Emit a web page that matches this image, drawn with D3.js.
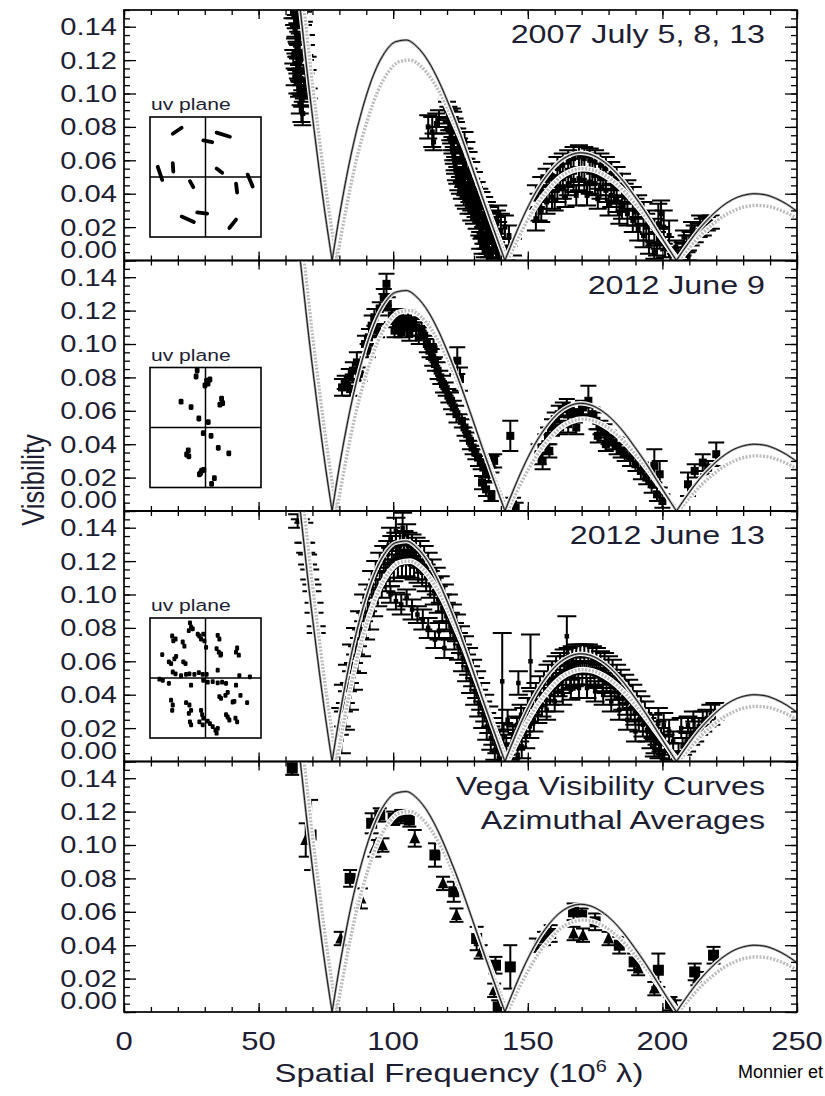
<!DOCTYPE html>
<html>
<head>
<meta charset="utf-8">
<script src="https://cdn.jsdelivr.net/npm/d3@7"></script>
<style>
  html, body { margin: 0; padding: 0; background: #fff; }
  svg { display: block; }
</style>
</head>
<body>
<svg id="chart" width="825" height="1096"></svg>
<script>
// ---------------- axis ticks and labels ----------------
const freqTicks = [0, 50, 100, 150, 200, 250];
const freqMinor = d3.range(0, 251, 10);
const visTicks = [0, 0.02, 0.04, 0.06, 0.08, 0.10, 0.12, 0.14];
const visMinor = d3.range(0, 0.1501, 0.005);
const panelTitles = [
  ["2007 July 5, 8, 13"],
  ["2012 June 9"],
  ["2012 June 13"],
  ["Vega Visibility Curves", "Azimuthal Averages"]
];

// ---------------- model visibility curves ----------------
// uniform-disk model (black)
const udFreq = [62.5, 64.6, 66.6, 68.6, 70.6, 72.6, 74.6, 77.3,
  80.7, 84.7, 88.8, 92.8, 96.8, 100.9, 104.9, 108.9, 113.0, 117.0, 121.0, 125.1, 129.1, 133.1, 137.2, 141.5,
  145.3, 149.3, 153.3, 157.4, 161.4, 165.4, 169.5, 173.5, 177.5, 181.6, 185.6, 189.6, 193.7, 197.7, 201.7, 205.2,
  209.8, 213.8, 217.9, 221.9, 225.9, 230.0, 234.0, 238.1, 242.1, 246.1, 250.2, 254.2];
const udVis = [0.194, 0.163, 0.134, 0.105, 0.0785, 0.0531, 0.0291, 0,
  0.0330, 0.0660, 0.0922, 0.1116, 0.1244, 0.1310, 0.1320, 0.1279, 0.1194, 0.1072, 0.0922, 0.0751, 0.0568, 0.0379, 0.0192, 0,
  0.0151, 0.0296, 0.0419, 0.0516, 0.0587, 0.0629, 0.0645, 0.0634, 0.0600, 0.0545, 0.0473, 0.0386, 0.0291, 0.0189, 0.0087, 0,
  0.0107, 0.0191, 0.0263, 0.0321, 0.0364, 0.0390, 0.0400, 0.0394, 0.0372, 0.0338, 0.0292, 0.0238];
// limb-darkened model (grey)
const ldFreq = [63.9, 66.0, 68.0, 70.0, 72.1, 74.1, 76.2, 79.0,
  82.4, 86.3, 90.4, 94.3, 98.3, 102.3, 106.3, 110.3, 114.3, 118.3, 122.2, 126.3, 130.2, 134.2, 138.2, 142.5,
  146.3, 150.3, 154.3, 158.4, 162.3, 166.3, 170.4, 174.4, 178.4, 182.5, 186.5, 190.5, 194.5, 198.5, 202.5, 206.0,
  210.6, 214.6, 218.7, 222.7, 226.7, 230.8, 234.8, 238.9, 242.9, 246.9, 251.0, 255.0];
const ldVis = [0.194, 0.163, 0.134, 0.105, 0.0785, 0.0531, 0.0291, 0,
  0.0300, 0.0600, 0.0838, 0.1014, 0.1131, 0.1191, 0.1200, 0.1163, 0.1085, 0.0975, 0.0838, 0.0683, 0.0516, 0.0345, 0.0175, 0,
  0.0129, 0.0252, 0.0357, 0.0440, 0.0501, 0.0537, 0.0550, 0.0541, 0.0512, 0.0465, 0.0403, 0.0329, 0.0248, 0.0161, 0.0074, 0,
  0.0088, 0.0158, 0.0217, 0.0265, 0.0300, 0.0322, 0.0330, 0.0325, 0.0307, 0.0279, 0.0241, 0.0196];

// ---------------- observations: [spatial frequency, visibility, error] ----------------
const obs2007 = [
  [62.6,.149,.004],[63.2,.146,.005],[63.8,.143,.004],[64.4,.147,.005],[65.0,.144,.004],[63.5,.139,.006],[64.1,.136,.005],
  [64.7,.133,.004],[65.3,.130,.006],[63.7,.129,.005],[64.3,.126,.004],[65.0,.123,.006],[65.6,.120,.005],[64.0,.118,.004],
  [64.6,.115,.006],[65.2,.112,.005],[65.8,.109,.004],[64.4,.106,.006],[65.0,.103,.005],[65.6,.100,.007],[66.2,.097,.005],
  [65.3,.094,.006],[65.9,.091,.008],[66.4,.088,.007],[67.0,.126,.003],[67.6,.132,.003],[68.2,.118,.004],[67.4,.108,.004],
  [68.6,.100,.003],[66.8,.139,.004],[62.9,.122,.004],[63.4,.110,.005],[66.5,.145,.004],[67.2,.116,.004],[66.8,.102,.005],
  [113.0,.080,.007],[114.5,.077,.009],[116.0,.082,.006],[115.0,.071,.005],[117.0,.085,.005],
  [120.0,.090,.005],[120.5,.087,.005],[121.8,.087,.004],[120.8,.084,.006],[122.3,.084,.005],[121.0,.081,.005],[122.8,.081,.004],
  [121.2,.078,.006],[123.3,.078,.005],[121.5,.075,.005],[123.8,.075,.004],[121.8,.072,.006],[124.3,.072,.005],[122.0,.069,.005],
  [124.5,.069,.004],[122.3,.066,.006],[125.0,.066,.005],[122.5,.063,.005],[125.6,.063,.004],[122.8,.060,.006],[126.0,.060,.005],
  [123.0,.057,.005],[126.5,.057,.004],[123.3,.054,.006],[127.2,.054,.005],[123.8,.051,.005],[127.8,.051,.004],[124.2,.048,.006],
  [128.3,.048,.005],[126.0,.048,.004],[124.8,.045,.005],[128.8,.045,.004],[126.8,.045,.006],[125.5,.042,.005],[129.5,.042,.004],
  [127.5,.042,.005],[126.2,.039,.006],[130.0,.039,.005],[128.3,.039,.004],[127.0,.036,.005],[130.6,.036,.004],[129.0,.036,.006],
  [128.0,.033,.005],[131.2,.033,.004],[129.8,.033,.005],[129.0,.030,.006],[132.0,.030,.005],[130.6,.030,.004],[130.0,.027,.005],
  [132.8,.027,.004],[134.0,.027,.006],[131.0,.024,.005],[133.5,.024,.004],[135.0,.024,.005],[132.0,.021,.006],[134.3,.021,.005],
  [136.0,.021,.004],[132.8,.018,.005],[135.0,.018,.004],[137.0,.018,.006],[133.5,.015,.005],[136.0,.015,.004],[134.2,.012,.005],
  [136.8,.012,.004],[135.0,.009,.005],[137.5,.009,.004],[135.6,.006,.004],[138.2,.006,.005],[136.5,.003,.004],[139.0,.003,.004],
  [132.8,.036,.005],[133.8,.033,.005],[134.8,.030,.005],[135.8,.027,.005],[136.8,.024,.005],[137.8,.021,.005],[138.5,.018,.005],
  [132.3,.012,.005],[133.2,.009,.005],[134.0,.006,.004],[134.8,.003,.004],
  [126.5,.072,.005],[127.2,.066,.005],[128.0,.060,.005],[129.0,.054,.005],[130.0,.048,.005],[131.0,.042,.005],[132.0,.038,.005],
  [138.5,.022,.008],[140.0,.018,.010],[141.5,.020,.007],[143.0,.015,.006],[139.0,.028,.005],[144.5,.008,.005],[142.0,.004,.004],
  [137.5,.012,.006],
  [153,.038,.007],[155,.043,.007],[157,.048,.007],[159,.051,.007],[161,.055,.007],[163,.057,.007],[165,.059,.007],[167,.061,.007],
  [169,.062,.007],[171,.061,.007],[173,.060,.007],[175,.059,.007],[177,.057,.007],[179,.055,.007],[181,.052,.007],[183,.049,.007],
  [185,.045,.007],[187,.041,.007],[189,.037,.007],[191,.032,.007],[193,.028,.007],[195,.023,.007],[197,.018,.007],[199,.013,.006],
  [201,.008,.006],[203,.003,.004],
  [153,.025,.007],[155,.030,.007],[157,.035,.007],[159,.038,.007],[161,.042,.007],[163,.044,.007],[165,.046,.007],[167,.048,.007],
  [169,.049,.007],[171,.048,.007],[173,.047,.007],[175,.046,.007],[177,.044,.007],[179,.042,.007],[181,.039,.007],[183,.036,.007],
  [185,.032,.007],[187,.028,.007],[189,.024,.007],[191,.019,.007],[193,.015,.007],[195,.010,.006],[197,.005,.004],
  [154,.032,.008],[158,.043,.008],[162,.050,.008],[166,.053,.008],[170,.055,.008],[174,.054,.008],[178,.050,.008],[182,.044,.008],
  [186,.038,.008],[190,.029,.008],[194,.020,.008],[198,.010,.007],
  [160,.036,.006],[164,.038,.006],[168,.039,.006],[172,.039,.006],[176,.037,.006],[180,.033,.006],[184,.028,.006],
  [198.5,.022,.012],[200.5,.020,.010],[202.5,.015,.009],[199.5,.028,.008],
  [206,.004,.004],[207.5,.007,.004],[209,.010,.005],[210.5,.013,.004],[212,.016,.005],[213.5,.018,.004],[215,.020,.005],
  [216.5,.022,.004],[218,.023,.004],[208,.014,.004],[211,.019,.004],[214,.022,.005],[205,.008,.004],[209.5,.003,.003]
];

const obsJune9 = [
  [97.5,.136,.006],[96.5,.128,.005],[98.0,.124,.004],[95.0,.121,.004],[93.0,.116,.005],[92.0,.111,.006],[94.0,.108,.004],
  [91.0,.104,.005],[89.5,.100,.005],[90.5,.096,.004],[86.5,.089,.006],[85.0,.084,.005],[83.5,.080,.005],[82.0,.077,.004],
  [81.0,.074,.005],[84.0,.073,.004],[87.5,.082,.004],
  [99.5,.117,.004],[101,.114,.004],[102.5,.116,.005],[104,.113,.004],[105.5,.115,.005],[107,.112,.004],[108.5,.110,.005],
  [100.5,.108,.004],[103,.107,.003],[106,.106,.004],[109.5,.104,.004],[110.5,.109,.004],[111.5,.105,.005],
  [112.5,.100,.005],[113.5,.096,.004],[114.5,.092,.005],[115.5,.088,.004],[116.5,.084,.005],[117.5,.080,.004],[118.5,.076,.005],
  [119.5,.073,.004],[120.5,.069,.004],[121.5,.066,.005],[122.5,.062,.004],[123.5,.058,.005],[123.8,.090,.008],[124.8,.079,.007],
  [115,.097,.006],[125.5,.054,.004],[126.5,.050,.005],[127.5,.046,.004],[128.5,.042,.005],[129.5,.038,.004],[130.5,.035,.004],
  [131.5,.032,.005],[132.5,.029,.004],[133.5,.026,.005],[134.5,.024,.004],[135.5,.022,.004],[136.5,.028,.005],[137.5,.030,.004],
  [133,.017,.004],[134.5,.013,.004],[136.5,.009,.003],[143.5,.045,.009],[144.5,.004,.004],[145.5,.002,.003],
  [154,.034,.006],[155.5,.030,.005],[156.5,.040,.006],[157.5,.045,.005],[158,.036,.004],[159,.050,.005],[160,.055,.004],
  [161.5,.058,.005],[163,.061,.004],[164.5,.062,.005],[166,.060,.004],[167.5,.057,.004],[169,.059,.005],[170.5,.062,.004],
  [172.5,.066,.009],[174,.058,.004],[175.5,.054,.005],[177,.050,.004],[178.5,.047,.005],[180,.044,.004],[181.5,.041,.004],
  [183,.039,.005],[184.5,.036,.004],[186,.034,.004],[162,.050,.004],[165,.052,.005],[168,.050,.004],[176,.045,.004],
  [179,.040,.004],[188,.032,.005],[190,.028,.004],[192,.024,.005],[194,.020,.004],[196,.016,.005],[197,.027,.010],
  [199,.022,.008],[198,.010,.004],[200,.006,.004],[209.5,.016,.007],[212,.024,.004],[215,.029,.005],[217,.026,.004],
  [220,.034,.007]
];

const obsJune13 = [
  [64.5,.144,.004],[66.8,.137,.006],[65.5,.148,.003],[67.5,.128,.003],[68.2,.121,.003],[69.0,.112,.003],[69.8,.104,.002],
  [70.6,.092,.003],[71.4,.079,.002],
  [80,.024,.008],[81.5,.038,.008],[83,.050,.008],[84.5,.062,.008],[86,.072,.008],[87.5,.082,.008],[89,.092,.008],
  [90.5,.098,.008],[92,.106,.008],[93.5,.112,.008],[95,.117,.008],[96.5,.121,.008],[98,.124,.008],[99.5,.127,.008],
  [101,.129,.008],[102.5,.129,.008],[104,.130,.008],[105.5,.129,.008],[107,.128,.008],[108.5,.126,.008],[110,.124,.008],
  [111.5,.121,.008],[113,.117,.008],[114.5,.113,.008],[116,.108,.008],[117.5,.103,.008],[119,.098,.008],[120.5,.092,.008],
  [122,.086,.008],[123.5,.080,.008],[125,.073,.008],[126.5,.067,.008],[128,.060,.008],[129.5,.053,.008],[131,.046,.008],
  [132.5,.039,.008],[134,.032,.008],[135.5,.025,.008],[137,.018,.008],[138.5,.012,.007],[140,.005,.005],
  [80.75,.013,.008],[82.25,.027,.008],[83.75,.039,.008],[85.25,.051,.008],[86.75,.061,.008],[88.25,.071,.008],[89.75,.081,.008],
  [91.25,.087,.008],[92.75,.095,.008],[94.25,.101,.008],[95.75,.106,.008],[97.25,.110,.008],[98.75,.113,.008],[100.25,.116,.008],
  [101.75,.118,.008],[103.25,.118,.008],[104.75,.119,.008],[106.25,.118,.008],[107.75,.117,.008],[109.25,.115,.008],
  [110.75,.113,.008],[112.25,.110,.008],[113.75,.106,.008],[115.25,.102,.008],[116.75,.097,.008],[118.25,.092,.008],
  [119.75,.087,.008],[121.25,.081,.008],[122.75,.075,.008],[124.25,.069,.008],[125.75,.062,.008],[127.25,.056,.008],
  [128.75,.049,.008],[130.25,.042,.008],[131.75,.035,.008],[133.25,.028,.008],[134.75,.021,.008],[136.25,.014,.007],
  [137.75,.007,.006],[139.25,.002,.004],
  [99,.100,.005],[101,.096,.005],[103,.094,.006],[105,.098,.005],[107,.091,.006],[109,.088,.005],[111,.085,.006],
  [113,.080,.006],[115.5,.073,.005],[117,.078,.005],[119,.068,.006],
  [99,.134,.006],[101,.138,.008],[103.5,.140,.009],[105,.136,.006],
  [140.5,.048,.029],[146.5,.047,.007],[141,.015,.008],[142,.010,.006],[143.5,.006,.005],[144.5,.016,.006],[139.5,.012,.006],
  [142.5,.025,.006],[146,.022,.005],[147.5,.028,.006],[151,.060,.016],[164.5,.075,.012],
  [144,.008,.006],[145.5,.014,.007],[147,.019,.007],[148.5,.025,.007],[150,.031,.007],[151.5,.035,.007],[153,.040,.007],
  [154.5,.044,.007],[156,.047,.007],[157.5,.051,.007],[159,.053,.007],[160.5,.056,.007],[162,.058,.007],[163.5,.060,.007],
  [165,.061,.007],[166.5,.062,.007],[168,.063,.007],[169.5,.063,.007],[171,.063,.007],[172.5,.063,.007],[174,.062,.007],
  [175.5,.061,.007],[177,.059,.007],[178.5,.058,.007],[180,.056,.007],[181.5,.054,.007],[183,.051,.007],[184.5,.048,.007],
  [186,.045,.007],[187.5,.042,.007],[189,.039,.007],[190.5,.035,.007],[192,.032,.007],[193.5,.029,.007],[195,.025,.007],
  [196.5,.021,.007],[198,.017,.007],[199.5,.013,.007],[201,.010,.006],[202.5,.006,.005],[204,.002,.004],
  [146.25,.004,.005],[147.75,.009,.007],[149.25,.015,.007],[150.75,.021,.007],[152.25,.025,.007],[153.75,.030,.007],
  [155.25,.034,.007],[156.75,.037,.007],[158.25,.041,.007],[159.75,.043,.007],[161.25,.046,.007],[162.75,.048,.007],
  [164.25,.050,.007],[165.75,.051,.007],[167.25,.052,.007],[168.75,.053,.007],[170.25,.053,.007],[171.75,.053,.007],
  [173.25,.053,.007],[174.75,.052,.007],[176.25,.051,.007],[177.75,.049,.007],[179.25,.048,.007],[180.75,.046,.007],
  [182.25,.044,.007],[183.75,.041,.007],[185.25,.038,.007],[186.75,.035,.007],[188.25,.032,.007],[189.75,.029,.007],
  [191.25,.025,.007],[192.75,.022,.007],[194.25,.019,.007],[195.75,.015,.007],[197.25,.011,.006],[198.75,.007,.005],
  [200.25,.003,.004],
  [157,.031,.006],[160,.036,.006],[163,.040,.006],[166,.043,.006],[169,.044,.006],[172,.044,.006],[175,.042,.006],
  [178,.040,.006],[181,.036,.006],[184,.031,.006],[187,.025,.006],[190,.018,.006],
  [206,.005,.006],[207.5,.009,.005],[209,.012,.006],[210.5,.015,.005],[212,.018,.006],[213.5,.021,.005],[215,.024,.006],
  [216.5,.026,.005],[218,.028,.006],[219.5,.030,.005],[207,.020,.006],[209.5,.022,.005],[211.5,.025,.005],[198.5,.024,.008],
  [200.5,.022,.007],[202.5,.018,.007],[204,.012,.006],[205,.002,.004],[197,.008,.005]
];

// azimuthal averages: two groups
const avgSquares = [
  [62.5,.146,.004],[69.5,.106,.021],[84,.080,.005],[92,.113,.006],[95,.118,.004],[100,.116,.004],[103,.117,.004],
  [106,.115,.004],[115.5,.094,.007],[122.5,.072,.006],[131,.044,.007],[138,.028,.005],[139,.003,.004],[143.5,.027,.013],
  [158.5,.047,.005],[167,.060,.005],[170,.058,.004],[175,.054,.005],[184,.040,.005],[189.5,.030,.005],[198.5,.025,.010],
  [203,.005,.004],[212,.024,.005],[219,.034,.005]
];
const avgTriangles = [
  [67.5,.103,.010],[80.5,.044,.004],[88,.068,.006],[93,.098,.005],[96,.100,.004],[108,.104,.005],[118.5,.077,.004],
  [123.5,.058,.004],[132.5,.036,.004],[137.5,.013,.004],[153,.040,.004],[156,.044,.004],[167,.047,.004],[170.5,.046,.004],
  [180,.044,.004],[191,.026,.004],[197,.014,.004],[205,.003,.004],[213,.020,.004]
];

// ---------------- uv coverage (normalised u, v) ----------------
const uvTracks2007 = [
  [-0.59,0.72,-0.43,0.82],[0.20,0.74,0.44,0.67],[-0.04,0.61,0.12,0.58],[-0.86,0.17,-0.78,-0.05],
  [-0.59,0.23,-0.58,0.09],[0.20,0.14,0.30,0.07],[-0.28,-0.07,-0.22,-0.17],[0.76,0.04,0.85,-0.16],
  [0.55,-0.11,0.57,-0.26],[-0.43,-0.66,-0.21,-0.75],[-0.15,-0.59,0.03,-0.61],[0.43,-0.85,0.55,-0.71]
];
const uvJune9 = [
  [-0.15,0.95],[-0.17,0.85],[0.02,0.78],[0.045,0.73],[-0.01,0.70],[0.08,0.80],[-0.44,0.43],[-0.26,0.34],
  [0.29,0.48],[0.31,0.405],[0.26,0.38],[-0.12,0.15],[0.05,0.09],[-0.04,-0.095],[0.10,-0.14],[0.23,-0.34],
  [0.42,-0.43],[-0.31,-0.38],[-0.34,-0.45],[-0.30,-0.48],[-0.07,-0.72],[-0.03,-0.705],[-0.11,-0.78],[-0.09,-0.76],
  [0.16,-0.845],[0.11,-0.94]
];
const uvJune13 = [
  [-0.28,0.92],[-0.26,0.85],[-0.30,0.79],[-0.23,0.82],[-0.14,0.73],[-0.11,0.70],[-0.04,0.73],[-0.08,0.65],[-0.02,0.62],
  [0.01,0.51],[-0.60,0.70],[-0.58,0.62],[-0.54,0.65],[-0.41,0.60],[-0.38,0.53],[0.22,0.71],[0.25,0.65],[0.20,0.49],
  [0.24,0.43],[0.27,0.38],[0.28,0.40],[0.57,0.50],[0.55,0.43],[0.60,0.38],[-0.78,0.39],[-0.53,0.36],[-0.56,0.32],
  [-0.66,0.27],[-0.62,0.24],[-0.36,0.24],[-0.40,0.27],[0.22,0.13],[-0.59,0.10],[-0.54,0.07],[-0.44,0.04],[-0.35,0.06],
  [-0.29,0.07],[-0.20,0.06],[-0.12,0.09],[-0.05,0.06],[0.02,0.06],[-0.83,-0.02],[-0.77,-0.04],[-0.66,-0.09],[-0.26,-0.12],
  [-0.04,-0.04],[0.04,-0.07],[0.13,-0.06],[0.22,-0.08],[0.30,-0.07],[0.37,-0.09],[0.61,0.04],[0.80,0.02],[0.55,-0.12],
  [0.40,-0.24],[0.36,-0.29],[0.25,-0.31],[0.28,-0.34],[0.63,-0.29],[0.49,-0.40],[0.52,-0.39],[0.75,-0.41],[-0.62,-0.37],
  [-0.59,-0.45],[-0.60,-0.54],[-0.35,-0.41],[-0.29,-0.45],[-0.26,-0.54],[-0.30,-0.59],[-0.08,-0.54],[-0.06,-0.61],
  [-0.04,-0.67],[-0.28,-0.73],[-0.26,-0.78],[-0.11,-0.73],[-0.05,-0.78],[0.04,-0.72],[0.08,-0.76],[0.37,-0.61],
  [0.40,-0.65],[0.43,-0.70],[0.54,-0.67],[0.57,-0.73],[0.13,-0.81],[0.18,-0.87],[0.20,-0.92],[0.22,-0.84]
];

// ---------------- layout ----------------
const FONT = "'Liberation Sans', Arial, Helvetica, sans-serif";
const INK = "#1d1d33";
const SX = 1.24;               // horizontal stretch of the lettering
const plotLeft = 124, plotRight = 797, firstTop = 10, panelH = 250.5;

const svg = d3.select("#chart");
const defs = svg.append("defs");
const x = d3.scaleLinear().domain([0, 250]).range([plotLeft, plotRight]);

function label(parent, txt, px, py, size, anchor, color) {
  const g = parent.append("g").attr("transform", `translate(${px},${py}) scale(${SX},1)`);
  return g.append("text")
    .attr("text-anchor", anchor)
    .attr("font-family", FONT)
    .attr("font-size", size)
    .attr("fill", color || INK)
    .text(txt);
}

function drawModel(g, freq, vis, y, kind) {
  const pts = freq.map((f, i) => [f, vis[i]]);
  const lobes = [];
  let cur = [];
  pts.forEach(p => {
    cur.push(p);
    if (p[1] === 0 && cur.length > 1) { lobes.push(cur); cur = [p]; }
  });
  if (cur.length > 1) lobes.push(cur);
  const line = d3.line().x(d => x(d[0])).y(d => y(d[1])).curve(d3.curveMonotoneX);
  const layers = kind === "ud"
    ? [{ c: "#ffffff", w: 4.4 }, { c: "#a0a0a0", w: 2.4 }, { c: "#151515", w: 1.0 }]
    : [{ c: "#ffffff", w: 5.6 }, { c: "#bcbcbc", w: 3.4, dash: "2 1.5" }];
  layers.forEach(L => {
    g.selectAll(null).data(lobes).enter().append("path")
      .attr("d", line)
      .attr("fill", "none")
      .attr("stroke", L.c)
      .attr("stroke-width", L.w)
      .attr("stroke-dasharray", L.dash || null)
      .attr("stroke-linejoin", "round");
  });
}

function drawErrorBars(g, data, y, cap, size, shape) {
  const grp = g.append("g").attr("stroke", "#000").attr("stroke-width", 2.0).attr("fill", "#000");
  data.forEach(([f, v, e]) => {
    const cx = x(f), yt = y(v + e), yb = y(v - e), cy = y(v);
    grp.append("line").attr("x1", cx).attr("x2", cx).attr("y1", yt).attr("y2", yb);
    grp.append("line").attr("x1", cx - cap).attr("x2", cx + cap).attr("y1", yt).attr("y2", yt);
    grp.append("line").attr("x1", cx - cap).attr("x2", cx + cap).attr("y1", yb).attr("y2", yb);
    if (shape === "tri") {
      const h = size;
      grp.append("path").attr("stroke", "none")
        .attr("d", `M${cx},${cy - h * 0.6}L${cx + h / 2},${cy + h * 0.45}L${cx - h / 2},${cy + h * 0.45}Z`);
    } else {
      grp.append("rect").attr("stroke", "none")
        .attr("x", cx - size / 2).attr("y", cy - size / 2).attr("width", size).attr("height", size);
    }
  });
}

function drawUV(g, top, kind, data) {
  const bx0 = 150, bx1 = 261, by0 = top + 107, by1 = top + 227;
  const u = d3.scaleLinear().domain([-1, 1]).range([bx0, bx1]);
  const v = d3.scaleLinear().domain([-1, 1]).range([by1, by0]);
  const box = g.append("g");
  box.append("rect").attr("x", bx0).attr("y", by0).attr("width", bx1 - bx0).attr("height", by1 - by0)
    .attr("fill", "#fff").attr("stroke", "#000").attr("stroke-width", 1.6);
  box.append("line").attr("x1", u(0)).attr("x2", u(0)).attr("y1", by0).attr("y2", by1)
    .attr("stroke", "#000").attr("stroke-width", 1.5);
  box.append("line").attr("x1", bx0).attr("x2", bx1).attr("y1", v(0)).attr("y2", v(0))
    .attr("stroke", "#000").attr("stroke-width", 1.5);
  if (kind === "tracks") {
    box.selectAll(null).data(data).enter().append("line")
      .attr("x1", d => u(d[0])).attr("y1", d => v(d[1]))
      .attr("x2", d => u(d[2])).attr("y2", d => v(d[3]))
      .attr("stroke", "#000").attr("stroke-width", 3.8).attr("stroke-linecap", "round");
  } else {
    const r = kind === "dots-large" ? 2.4 : 2.0;
    box.selectAll(null).data(data).enter().append("rect")
      .attr("x", d => u(d[0]) - r).attr("y", d => v(d[1]) - r * 1.2)
      .attr("width", 2 * r).attr("height", 2.4 * r).attr("rx", r * 0.6)
      .attr("fill", "#000");
  }
  label(g, "uv plane", bx0 + 1, by0 - 7, 17, "start");
}

const panels = [
  { obs: obs2007, cap: 9, size: 5, uv: ["tracks", uvTracks2007] },
  { obs: obsJune9, cap: 8, size: 8, uv: ["dots-large", uvJune9] },
  { obs: obsJune13, cap: 9.5, size: 4.5, uv: ["dots", uvJune13] },
  { obs: null, cap: 7, size: 10, uv: null }
];

panels.forEach((p, i) => {
  const top = firstTop + i * panelH, bottom = top + panelH;
  const y = d3.scaleLinear().domain([0, 0.15]).range([bottom, top]);
  const g = svg.append("g");

  defs.append("clipPath").attr("id", "clip" + i).append("rect")
    .attr("x", plotLeft).attr("y", top).attr("width", plotRight - plotLeft).attr("height", panelH);
  const plot = g.append("g").attr("clip-path", `url(#clip${i})`);

  if (p.obs) {
    drawErrorBars(plot, p.obs, y, p.cap, p.size, "sq");
  } else {
    drawErrorBars(plot, avgSquares, y, p.cap, 11, "sq");
    drawErrorBars(plot, avgTriangles, y, p.cap, 11, "tri");
  }
  drawModel(plot, ldFreq, ldVis, y, "ld");
  drawModel(plot, udFreq, udVis, y, "ud");

  // ticks on all four sides, pointing inward
  const tickAxis = (axis, tx, ty) => g.append("g").attr("transform", `translate(${tx},${ty})`)
    .call(axis).call(s => s.select(".domain").remove())
    .call(s => s.selectAll("line").attr("stroke", "#000").attr("stroke-width", 1.3));
  tickAxis(d3.axisLeft(y).tickValues(visMinor).tickSize(-6).tickFormat(""), plotLeft, 0);
  tickAxis(d3.axisLeft(y).tickValues(visTicks).tickSize(-12).tickFormat(""), plotLeft, 0);
  tickAxis(d3.axisRight(y).tickValues(visMinor).tickSize(-6).tickFormat(""), plotRight, 0);
  tickAxis(d3.axisRight(y).tickValues(visTicks).tickSize(-12).tickFormat(""), plotRight, 0);
  tickAxis(d3.axisBottom(x).tickValues(freqMinor).tickSize(-5).tickFormat(""), 0, bottom);
  tickAxis(d3.axisBottom(x).tickValues(freqTicks).tickSize(-9).tickFormat(""), 0, bottom);
  tickAxis(d3.axisTop(x).tickValues(freqMinor).tickSize(-5).tickFormat(""), 0, top);
  tickAxis(d3.axisTop(x).tickValues(freqTicks).tickSize(-9).tickFormat(""), 0, top);

  g.append("rect").attr("x", plotLeft).attr("y", top).attr("width", plotRight - plotLeft).attr("height", panelH)
    .attr("fill", "none").attr("stroke", "#000").attr("stroke-width", 1.7);

  // visibility tick labels; the zero label is lifted to sit inside its panel
  visTicks.forEach(v => {
    const cy = v === 0 ? bottom - 11 : y(v);
    label(g, v.toFixed(2), 117, cy + 0.358 * 23.5, 23.5, "end");
  });

  // panel title
  panelTitles[i].forEach((t, k) => label(g, t, 765, top + 33 + k * 34, 26, "end"));

  if (p.uv) drawUV(g, top, p.uv[0], p.uv[1]);

  if (i === panels.length - 1) {
    freqTicks.forEach(f => label(g, String(f), x(f), 1050, 25, "middle"));
  }
});

// axis titles
const xt = label(svg, "", 459, 1082, 26.5, "middle");
xt.append("tspan").text("Spatial Frequency (10");
xt.append("tspan").attr("font-size", 16).attr("dy", -10).text("6");
xt.append("tspan").attr("dy", 10).text(" λ)");

svg.append("g").attr("transform", `translate(44,480) scale(${SX},1) rotate(-90)`)
  .append("text").attr("text-anchor", "middle").attr("font-family", FONT).attr("font-size", 25.5)
  .attr("fill", INK).text("Visibility");

svg.append("text").attr("x", 738).attr("y", 1078).attr("font-family", FONT).attr("font-size", 18)
  .attr("fill", "#000").text("Monnier et");
</script>
</body>
</html>
